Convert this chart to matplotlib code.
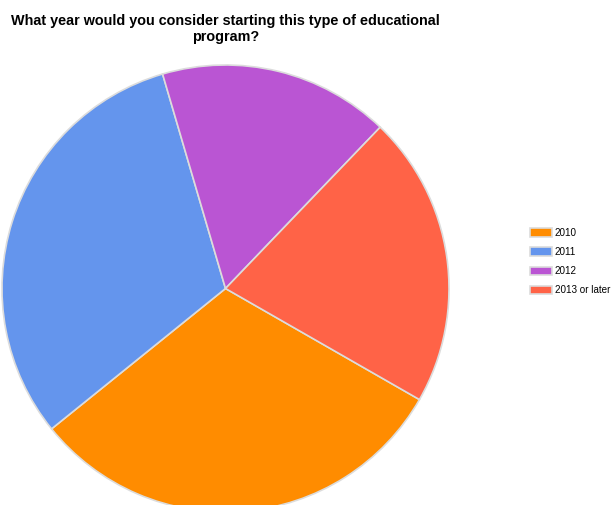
import matplotlib
matplotlib.use("Agg")
import matplotlib.pyplot as plt

categories = ["2010", "2011", "2012", "2013 or later"]
values = [30.9, 31.25, 16.7, 21.1]
colors = ["#FF8C00", "#6495ED", "#BA55D3", "#FF6347"]
title = "What year would you consider starting this type of educational\nprogram?"

W, H = 611, 505
fig = plt.figure(figsize=(W / 100, H / 100), dpi=100)
plt.rcParams['font.family'] = ['Liberation Sans', 'DejaVu Sans']

cx, cy, r = 225.5, 288.5, 223.5
ax = fig.add_axes([(cx - r) / W, (H - cy - r) / H, 2 * r / W, 2 * r / H])
wedges, _ = ax.pie(values, colors=colors, startangle=-29.8, counterclock=False,
                   radius=1.0, wedgeprops=dict(edgecolor="#dcdcdc", linewidth=1.2))
ax.set_xlim(-1.0, 1.0)
ax.set_ylim(-1.0, 1.0)
ax.set_aspect("equal")
ax.axis("off")
for w in wedges:
    w.set_clip_on(False)

fig.text(225.5 / W, 1 - 13.5 / H, title, ha="center", va="top", fontsize=10.35,
         fontweight="bold", linespacing=1.2)

fig.legend(wedges, categories, loc="upper left", bbox_to_anchor=(530 / W, 1 - 228 / H),
           frameon=False, fontsize=7.15, handlelength=2.2, handleheight=0.95,
           labelspacing=0.92, handletextpad=0.3, borderpad=0, borderaxespad=0)

fig.savefig("out.png", dpi=100)
